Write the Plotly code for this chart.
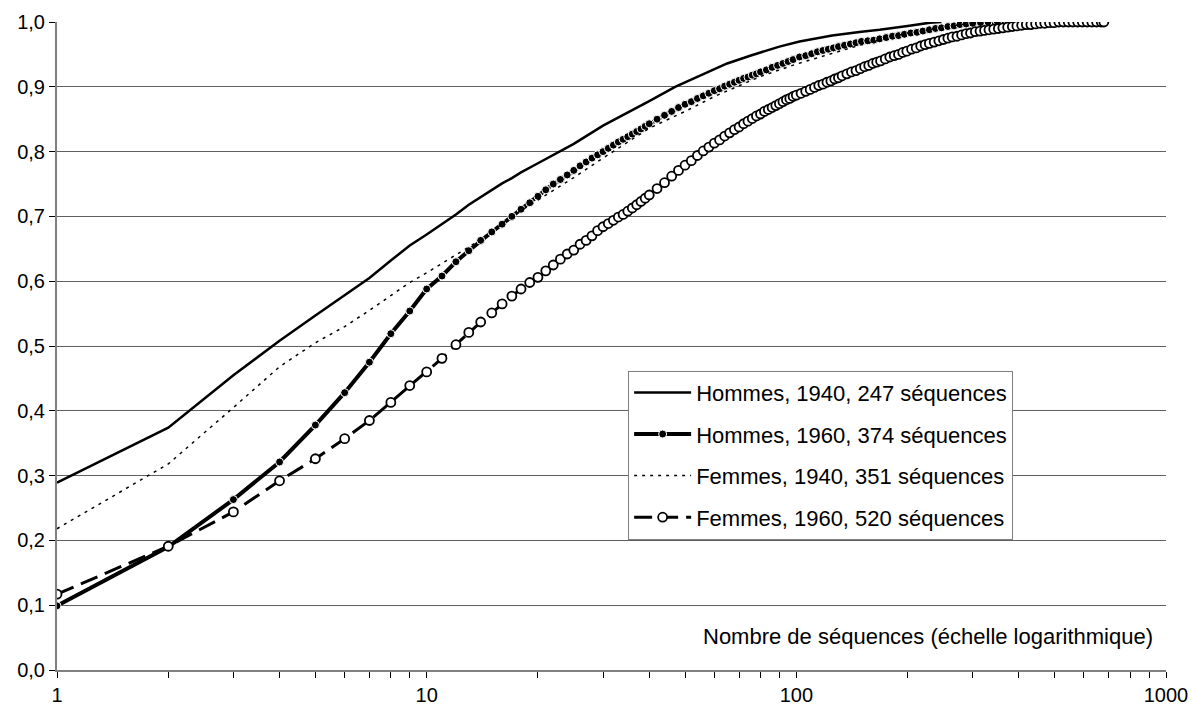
import plotly.graph_objects as go

# ---------------- data ----------------
h40_x = [1, 2, 3, 4, 5, 6, 7, 8, 9, 10, 11, 12, 13, 14, 15, 16, 17, 18, 20, 22, 25, 30,
         35, 40, 47, 55, 65, 75, 90, 102, 125, 150, 168, 200, 230, 247]
h40_y = [0.289, 0.374, 0.455, 0.508, 0.547, 0.578, 0.605, 0.632, 0.655, 0.672, 0.688,
         0.703, 0.718, 0.730, 0.741, 0.751, 0.759, 0.768, 0.782, 0.795, 0.812, 0.840,
         0.860, 0.878, 0.900, 0.918, 0.936, 0.948, 0.962, 0.970, 0.979, 0.985, 0.988,
         0.994, 0.999, 1.000]

h60_x = list(range(1, 41)) + [42, 44, 46, 48, 50, 52, 54, 56, 58, 60, 62, 64, 66, 68, 70,
                              72, 74, 76, 78, 80, 83, 86, 89, 92, 95, 98, 102, 106, 110,
                              114, 118, 122, 126, 130, 135, 140, 145, 150, 156, 162, 168,
                              175, 182, 189, 196, 204, 212, 220, 229, 238, 247, 257, 267,
                              277, 288, 300, 315, 330, 350, 374]
h60_y = [0.099, 0.190, 0.263, 0.321, 0.378, 0.428, 0.475, 0.519, 0.554, 0.588,
         0.608, 0.630, 0.647, 0.663, 0.676, 0.688, 0.700, 0.711, 0.721, 0.731,
         0.741, 0.750, 0.757, 0.764, 0.771, 0.778, 0.784, 0.790, 0.795, 0.800,
         0.805, 0.810, 0.815, 0.819, 0.823, 0.827, 0.831, 0.835, 0.839, 0.843,
         0.850, 0.856, 0.862, 0.868, 0.873, 0.877, 0.882, 0.886, 0.890, 0.894,
         0.897, 0.901, 0.904, 0.907, 0.910, 0.913, 0.915, 0.918, 0.920, 0.923,
         0.926, 0.930, 0.933, 0.936, 0.939, 0.942, 0.946, 0.948, 0.951, 0.954,
         0.956, 0.958, 0.960, 0.962, 0.964, 0.966, 0.968, 0.970, 0.971, 0.972,
         0.974, 0.976, 0.978, 0.979, 0.981, 0.983, 0.984, 0.986, 0.988, 0.990,
         0.991, 0.993, 0.994, 0.996, 0.997, 0.998, 0.999, 1.000, 1.000, 1.000]

f40_x = [1, 2, 3, 4, 5, 6, 7, 8, 9, 10, 12, 14, 17, 20, 25, 30, 40, 50, 60, 80, 100,
         150, 200, 280, 351]
f40_y = [0.218, 0.318, 0.405, 0.468, 0.505, 0.530, 0.555, 0.578, 0.598, 0.613, 0.640,
         0.664, 0.700, 0.725, 0.760, 0.790, 0.836, 0.862, 0.885, 0.916, 0.935, 0.965,
         0.983, 0.996, 1.000]

f60_x = list(range(1, 41)) + [42, 44, 46, 48, 50, 52, 54, 56, 58, 60, 62, 64, 66, 68, 70,
                              72, 74, 76, 78, 80, 82, 84, 86, 88, 90, 92, 94, 96, 98, 100,
                              103, 106, 109, 112, 115, 118, 121, 124, 127, 130, 133, 137,
                              141, 145, 149, 153, 157, 161, 165, 169, 174, 179, 184, 189,
                              194, 199, 205, 211, 217, 223, 229, 236, 243, 250, 257, 264,
                              272, 280, 288, 296, 305, 314, 323, 332, 342, 352, 362, 373,
                              384, 395, 407, 419, 431, 444, 457, 470, 484, 498, 513, 528,
                              544, 560, 577, 594, 612, 630, 649, 668, 679]
f60_y = [0.117, 0.191, 0.244, 0.292, 0.326, 0.357, 0.385, 0.413, 0.439, 0.460,
         0.481, 0.502, 0.521, 0.537, 0.551, 0.565, 0.577, 0.588, 0.598, 0.606,
         0.616, 0.625, 0.634, 0.642, 0.648, 0.657, 0.663, 0.670, 0.678, 0.684,
         0.689, 0.694, 0.699, 0.703, 0.708, 0.713, 0.718, 0.723, 0.728, 0.733,
         0.743, 0.752, 0.762, 0.771, 0.779, 0.786, 0.794, 0.801, 0.807, 0.813,
         0.818, 0.824, 0.829, 0.834, 0.838, 0.843, 0.847, 0.851, 0.855, 0.858,
         0.862, 0.865, 0.868, 0.871, 0.874, 0.877, 0.880, 0.882, 0.885, 0.887,
         0.890, 0.893, 0.896, 0.899, 0.902, 0.904, 0.907, 0.909, 0.912, 0.914,
         0.917, 0.920, 0.923, 0.925, 0.928, 0.931, 0.933, 0.936, 0.938, 0.940,
         0.943, 0.946, 0.948, 0.950, 0.953, 0.955, 0.958, 0.960, 0.963, 0.965,
         0.967, 0.969, 0.971, 0.973, 0.975, 0.977, 0.978, 0.980, 0.982, 0.983,
         0.985, 0.986, 0.987, 0.988, 0.989, 0.990, 0.991, 0.992, 0.993, 0.994,
         0.995, 0.996, 0.996, 0.997, 0.998, 0.998, 0.999, 0.999, 1.000, 1.000,
         1.000, 1.000, 1.000, 1.000, 1.000, 1.000, 1.000, 1.000, 1.000]

names = ["Hommes, 1940, 247 séquences", "Hommes, 1960, 374 séquences",
         "Femmes, 1940, 351 séquences", "Femmes, 1960, 520 séquences"]

y_ticks = [0.0, 0.1, 0.2, 0.3, 0.4, 0.5, 0.6, 0.7, 0.8, 0.9, 1.0]
x_ticks = [1, 10, 100, 1000]
x_minor = [2, 3, 4, 5, 6, 7, 8, 9, 20, 30, 40, 50, 60, 70, 80, 90,
           200, 300, 400, 500, 600, 700, 800, 900]
x_title = "Nombre de séquences (échelle logarithmique)"

FONT = "Arial, 'Liberation Sans', sans-serif"

fig = go.Figure()

fig.add_trace(go.Scatter(
    x=h40_x, y=h40_y, name=names[0], mode="lines", legendgroup="a",
    line=dict(color="black", width=2.5)))

fig.add_trace(go.Scatter(
    x=h60_x, y=h60_y, name=names[1], mode="lines+markers", legendgroup="b",
    line=dict(color="black", width=4),
    marker=dict(symbol="circle", size=8, color="black",
                line=dict(color="white", width=1))))

fig.add_trace(go.Scatter(
    x=f40_x, y=f40_y, name=names[2], mode="lines", legendgroup="c",
    line=dict(color="black", width=1.5, dash="3px,5px")))

fig.add_trace(go.Scatter(
    x=f60_x, y=f60_y, name=names[3], mode="lines+markers", legendgroup="d",
    line=dict(color="black", width=3, dash="18px,8px"),
    marker=dict(symbol="circle", size=9, color="white",
                line=dict(color="black", width=1.8))))

fig.add_annotation(
    xref="paper", yref="paper", x=0.99, y=0.051, xanchor="right", yanchor="middle",
    text=x_title, showarrow=False, font=dict(family=FONT, size=22, color="black"))

fig.update_layout(
    width=1192, height=707,
    margin=dict(l=57, r=26, t=22, b=37),
    paper_bgcolor="white", plot_bgcolor="white",
    separators=", ",
    font=dict(family=FONT, size=20, color="black"),
    showlegend=True,
    legend=dict(
        x=0.515, y=0.462, xanchor="left", yanchor="top",
        bgcolor="white", bordercolor="#808080", borderwidth=1,
        font=dict(family=FONT, size=22, color="black"),
        itemwidth=57, tracegroupgap=10, traceorder="grouped"),
)

fig.update_xaxes(
    type="log", range=[0, 3], automargin=False,
    tickmode="array", tickvals=x_ticks, ticktext=[str(v) for v in x_ticks],
    ticks="outside", ticklen=6, tickcolor="black", tickwidth=1,
    showline=True, linecolor="#808080", linewidth=2,
    showgrid=False, zeroline=False,
    minor=dict(tickvals=x_minor, ticks="outside", ticklen=6, tickcolor="black",
               tickwidth=1, showgrid=False),
    tickfont=dict(family=FONT, size=20, color="black"),
)

fig.update_yaxes(
    range=[0, 1.0], tickmode="array", tickvals=y_ticks, tickformat=".1f",
    automargin=False,
    ticks="outside", ticklen=6, tickcolor="black", tickwidth=1,
    showline=True, linecolor="#808080", linewidth=2,
    showgrid=True, gridcolor="#606060", gridwidth=1, zeroline=False,
    tickfont=dict(family=FONT, size=20, color="black"),
)

fig.write_html("out.html")
